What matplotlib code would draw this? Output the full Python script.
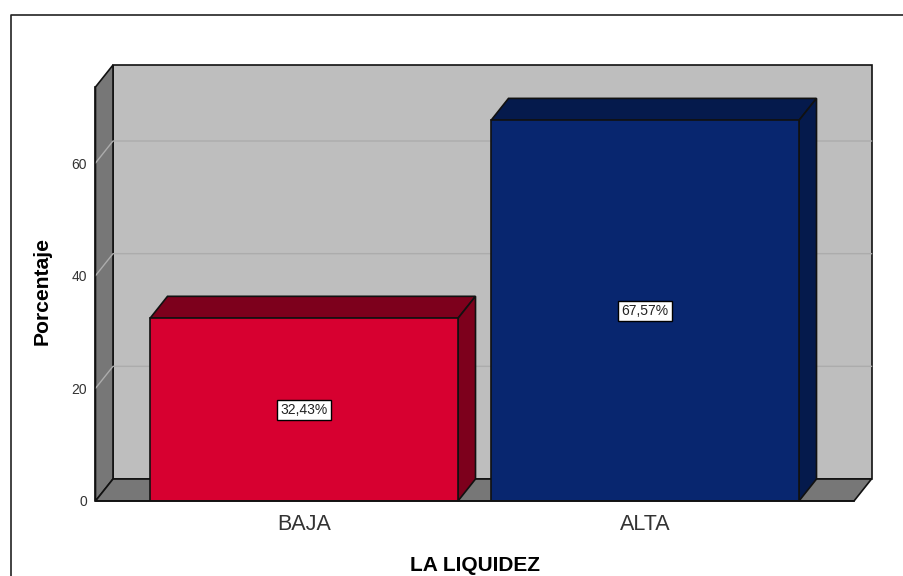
import matplotlib
matplotlib.use('Agg')
import matplotlib.pyplot as plt
from matplotlib.lines import Line2D
from matplotlib.patches import Polygon

categories = ['BAJA', 'ALTA']
percentages = [32.43, 67.57]
value_labels = ['32,43%', '67,57%']
y_ticks = [0, 20, 40, 60]

front_colors = ['#d70030', '#08266f']
shade_colors = ['#7d001c', '#051a4c']

W, H = 904, 576
plt.rcParams['font.family'] = ['Liberation Sans', 'DejaVu Sans']

fig = plt.figure(figsize=(W / 100, H / 100), dpi=100)
fig.patch.set_facecolor('white')

# axes is the front plane of the fake 3D box
left, right, bottom, top = 95.5, 854, 501, 87
ax = fig.add_axes([left / W, 1 - bottom / H, (right - left) / W, (bottom - top) / H])
ax.patch.set_alpha(0)

px_per_cat = 341
px_per_val = 5.633
ax.set_xlim(-(304 - left) / px_per_cat, (right - 304) / px_per_cat)
ax.set_ylim(0, (bottom - top) / px_per_val)
x0, x1 = ax.get_xlim()
y0, y1 = ax.get_ylim()

# depth offset of the box
dx = 17.5 / px_per_cat
dy = 22 / px_per_val
bar_w = 308 / px_per_cat


def face(points, color, z, edge='#111111', lw=1.2):
    ax.add_patch(Polygon(points, closed=True, facecolor=color, edgecolor=edge,
                         linewidth=lw, zorder=z, clip_on=False))


# walls and floor
face([(x0 + dx, y0 + dy), (x1 + dx, y0 + dy), (x1 + dx, y1 + dy), (x0 + dx, y1 + dy)], '#bebebe', 1)
face([(x0, y0), (x0 + dx, y0 + dy), (x0 + dx, y1 + dy), (x0, y1)], '#777777', 1.1)
face([(x0, y0), (x1, y0), (x1 + dx, y0 + dy), (x0 + dx, y0 + dy)], '#777777', 1.1)

# gridlines run along the side wall then the back wall
for t in y_ticks[1:]:
    ax.plot([x0, x0 + dx, x1 + dx], [t, t + dy, t + dy], color='#acacac',
            linewidth=1, zorder=1.5, clip_on=False)

# bars
bars = ax.bar(range(len(categories)), percentages, width=bar_w, color=front_colors,
              edgecolor='#111111', linewidth=1.2, zorder=4)
for i, val in enumerate(percentages):
    a, b = i - bar_w / 2, i + bar_w / 2
    face([(a, val), (b, val), (b + dx, val + dy), (a + dx, val + dy)], shade_colors[i], 3)
    face([(b, 0), (b + dx, dy), (b + dx, val + dy), (b, val)], shade_colors[i], 3)
    ax.text(i, val / 2, value_labels[i], ha='center', va='center', fontsize=10,
            color='#222222', zorder=5,
            bbox=dict(boxstyle='square,pad=0.22', facecolor='white', edgecolor='black', linewidth=1))

ax.set_xticks(range(len(categories)))
ax.set_xticklabels(categories, fontsize=15.5, color='#333333')
ax.set_yticks(y_ticks)
ax.tick_params(axis='y', length=0, pad=6, labelsize=10, labelcolor='#333333')
ax.tick_params(axis='x', length=0, pad=9)
ax.set_xlabel('LA LIQUIDEZ', fontsize=15, fontweight='bold')
ax.set_ylabel('Porcentaje', fontsize=15.2, fontweight='bold')
ax.xaxis.set_label_coords(0.5, -0.134)
ax.yaxis.set_label_coords(-0.058, 0.507)

for side in ['top', 'right']:
    ax.spines[side].set_visible(False)
for side in ['left', 'bottom']:
    ax.spines[side].set_color('#111111')
    ax.spines[side].set_linewidth(1.2)
    ax.spines[side].set_zorder(6)

# frame of the screenshot, open on the right and at the bottom
fig.add_artist(Line2D([10.5 / W, 10.5 / W, 1], [0, 1 - 14.5 / H, 1 - 14.5 / H],
                      color='#222222', linewidth=1.2))

fig.savefig('out.png', dpi=100)
